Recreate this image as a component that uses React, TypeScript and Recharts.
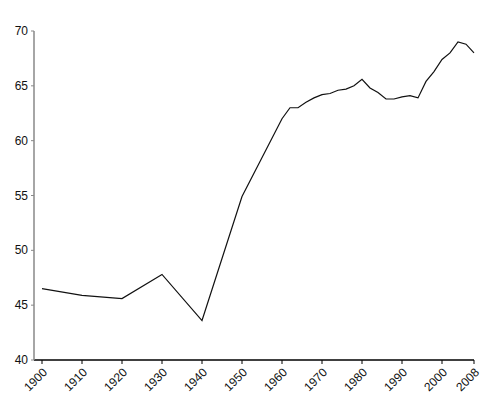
import { LineChart, Line, XAxis, YAxis } from "recharts";

// survey years and the value for each
const years = [
  1900, 1910, 1920, 1930, 1940, 1950, 1960, 1962, 1964, 1966, 1968, 1970, 1972, 1974, 1976,
  1978, 1980, 1982, 1984, 1986, 1988, 1990, 1992, 1994, 1996, 1998, 2000, 2002, 2004, 2006, 2008,
];
const values = [
  46.5, 45.9, 45.6, 47.8, 43.6, 54.9, 62.0, 63.0, 63.0, 63.5, 63.9, 64.2, 64.3, 64.6, 64.7,
  65.0, 65.6, 64.8, 64.4, 63.8, 63.8, 64.0, 64.1, 63.9, 65.4, 66.3, 67.4, 68.0, 69.0, 68.8, 68.0,
];
const xTicks = [1900, 1910, 1920, 1930, 1940, 1950, 1960, 1970, 1980, 1990, 2000, 2008];
const yTicks = [40, 45, 50, 55, 60, 65, 70];

const data = years.map((year, i) => ({ year, value: values[i] }));

const font = { fontFamily: "'Liberation Sans', Arial, sans-serif", fontSize: 12, fill: "#111" };

const YearTick = ({ x, y, payload }: any) => (
  <text x={x + 6} y={y + 7} textAnchor="end" transform={`rotate(-45 ${x + 6} ${y + 7})`} style={font}>
    {payload.value}
  </text>
);

const ValueTick = ({ x, y, payload }: any) => (
  <text x={x} y={y} dy={4} textAnchor="end" style={font}>
    {payload.value}
  </text>
);

export default function App() {
  return (
    <LineChart width={492} height={392} data={data} margin={{ top: 23, right: 26, left: 0, bottom: 0 }}>
      <XAxis
        dataKey="year"
        type="number"
        domain={[1900, 2008]}
        ticks={xTicks}
        interval={0}
        padding={{ left: 8, right: 0 }}
        height={40}
        tickSize={4}
        tickMargin={2}
        axisLine={{ stroke: "#000", strokeWidth: 1.5 }}
        tickLine={{ stroke: "#000" }}
        tick={<YearTick />}
      />
      <YAxis
        domain={[40, 70]}
        ticks={yTicks}
        interval={0}
        width={26}
        tickSize={3}
        tickMargin={3}
        axisLine={{ stroke: "#888", strokeWidth: 1.5 }}
        tickLine={{ stroke: "#888" }}
        tick={<ValueTick />}
      />
      <Line
        type="linear"
        dataKey="value"
        stroke="#111"
        strokeWidth={1.2}
        dot={false}
        isAnimationActive={false}
      />
    </LineChart>
  );
}
